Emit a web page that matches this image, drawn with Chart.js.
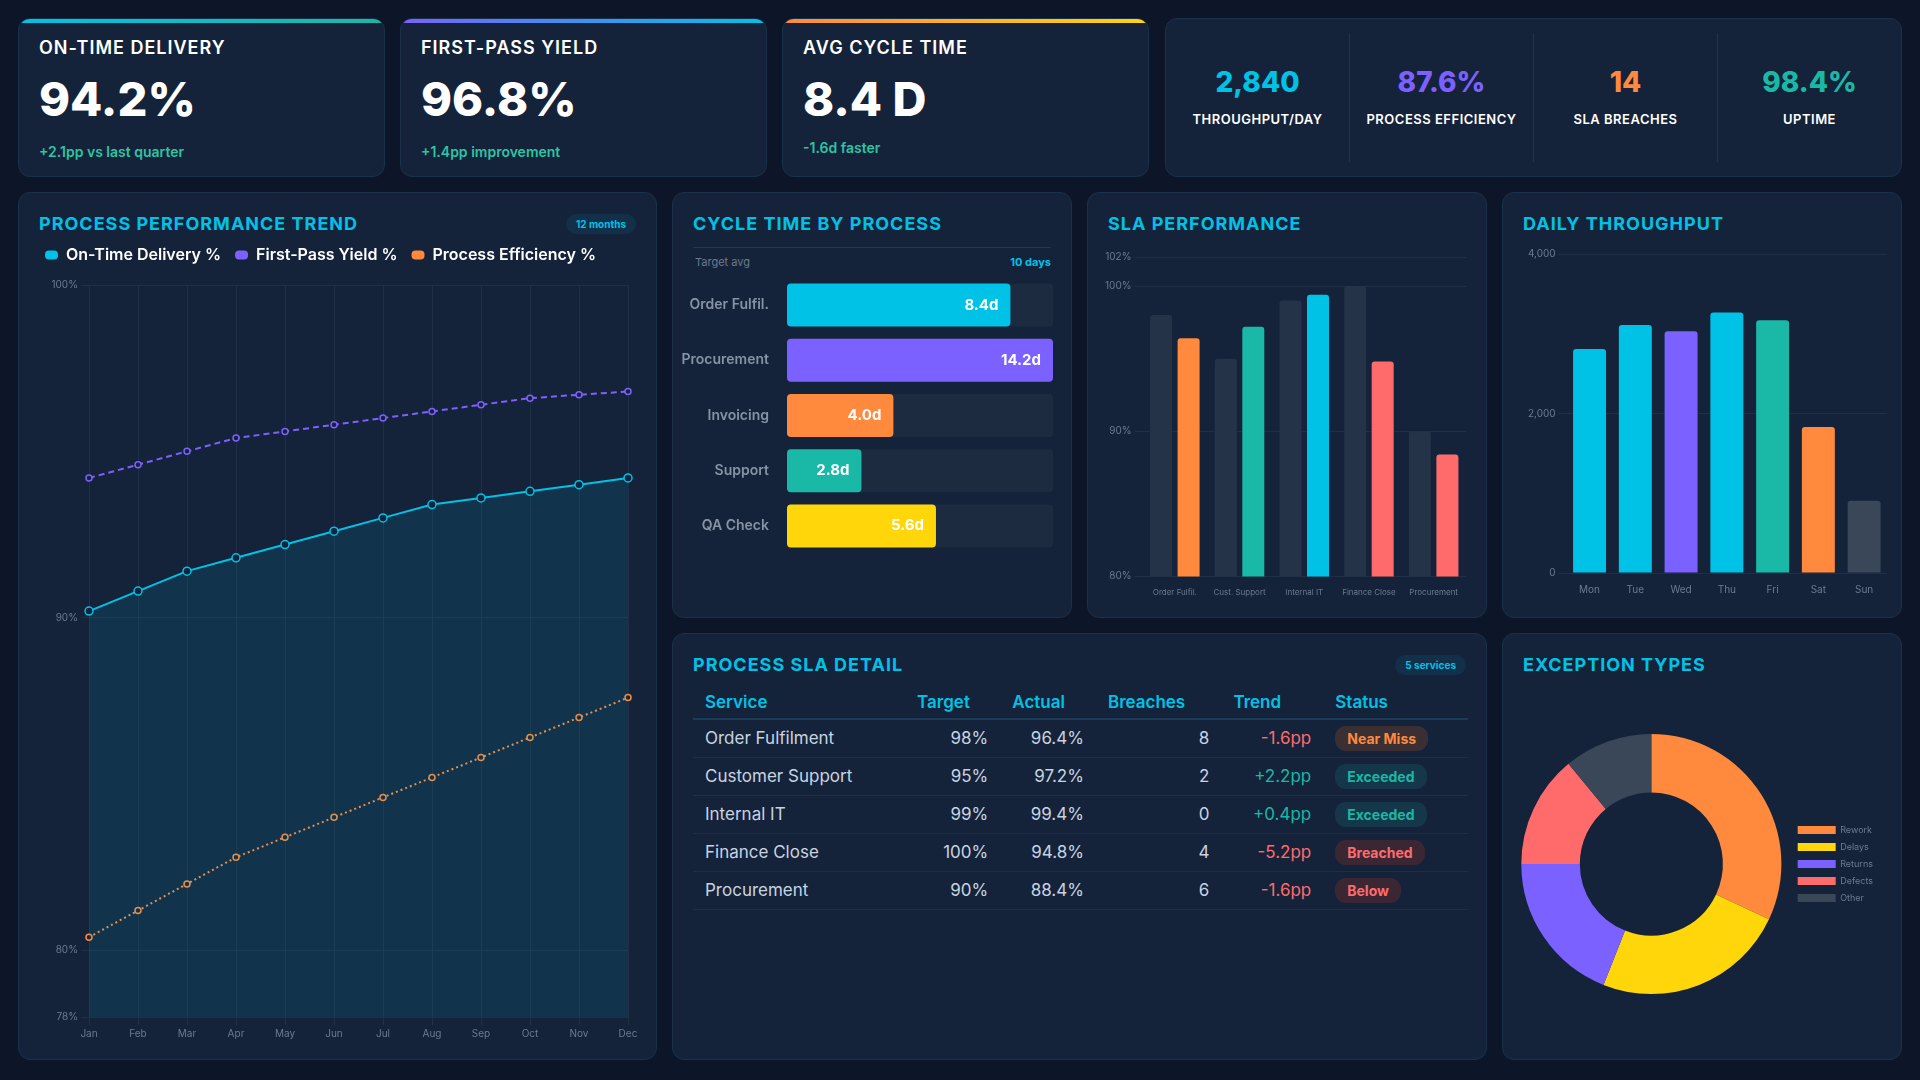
<!DOCTYPE html>
<html>
<head>
<meta charset="utf-8">
<script src="https://cdn.jsdelivr.net/npm/chart.js@4.4.1/dist/chart.umd.min.js"></script>
<style>
  * { box-sizing: border-box; margin: 0; padding: 0; }
  body { width: 1920px; height: 1080px; background: #0c1628; font-family: Inter, "Noto Sans", sans-serif; color: #fff; overflow: hidden; position: relative; }
  .card { position: absolute; background: #14233a; border: 1px solid #1b3049; border-radius: 12px; overflow: hidden; }
  .kpi { top: 18px; height: 159px; padding: 16px 20px; }
  .kpi .bar { position: absolute; left: 0; right: 0; top: 0; height: 4px; }
  .kpi .lbl { font-size: 18px; font-weight: 600; letter-spacing: 1px; margin-top: 2px; }
  .kpi .val { font-size: 47px; font-weight: 800; margin-top: 12px; }
  .kpi .sub { font-size: 14px; font-weight: 600; color: #2ec4a4; margin-top: 16px; }
  .mini { top: 18px; left: 1165px; width: 737px; height: 159px; display: flex; padding: 14px 0; }
  .mini div { flex: 1; text-align: center; border-right: 1px solid #22344c; padding-top: 32px; }
  .mini div:last-child { border-right: none; }
  .mini b { display: block; font-size: 28px; font-weight: 800; }
  .mini span { display: block; font-size: 13px; font-weight: 600; letter-spacing: 0.5px; margin-top: 12px; }
  .title { position: absolute; left: 20px; top: 20px; font-size: 18px; font-weight: 700; color: #00c2e6; letter-spacing: 1px; }
  .pill { position: absolute; top: 21px; right: 20px; background: #123049; color: #00c2e6; font-size: 10px; font-weight: 700; padding: 4px 10px; border-radius: 10px; }
  .cv { position: absolute; }
  table { position: absolute; left: 20px; top: 52px; width: 775px; border-collapse: collapse; font-size: 17px; }
  th { color: #00c2e6; font-weight: 600; text-align: left; padding: 6px 12px; border-bottom: 2px solid #1b3c58; }
  td { color: #c9d3e0; text-align: right; padding: 0 12px; height: 38px; border-bottom: 1px solid #1e2f45; }
  td:first-child, td:last-child { text-align: left; }
  .st { font-size: 14px; font-weight: 700; padding: 4px 12px; border-radius: 11px; }
</style>
</head>
<body>
<div class="card kpi" style="left:18px;width:367px"><div class="bar" style="background:linear-gradient(90deg,#00c2e6,#1ab8a6)"></div>
  <div class="lbl">ON-TIME DELIVERY</div><div class="val">94.2%</div><div class="sub">+2.1pp vs last quarter</div></div>
<div class="card kpi" style="left:400px;width:367px"><div class="bar" style="background:linear-gradient(90deg,#7b61ff,#00c2e6)"></div>
  <div class="lbl">FIRST-PASS YIELD</div><div class="val">96.8%</div><div class="sub">+1.4pp improvement</div></div>
<div class="card kpi" style="left:782px;width:367px"><div class="bar" style="background:linear-gradient(90deg,#ff8a3d,#ffd60a)"></div>
  <div class="lbl">AVG CYCLE TIME</div><div class="val">8.4 D</div><div class="sub" style="margin-top:12px">-1.6d faster</div></div>
<div class="card mini">
  <div><b style="color:#00c2e6">2,840</b><span>THROUGHPUT/DAY</span></div>
  <div><b style="color:#7b61ff">87.6%</b><span>PROCESS EFFICIENCY</span></div>
  <div><b style="color:#ff8a3d">14</b><span>SLA BREACHES</span></div>
  <div><b style="color:#1ab8a6">98.4%</b><span>UPTIME</span></div>
</div>

<div class="card" style="left:18px;top:192px;width:639px;height:868px">
  <div class="title">PROCESS PERFORMANCE TREND</div><div class="pill">12 months</div>
  <div class="cv" style="left:12px;top:40px;width:615px;height:810px"><canvas id="trend"></canvas></div>
</div>
<div class="card" style="left:672px;top:192px;width:400px;height:426px">
  <div class="title">CYCLE TIME BY PROCESS</div>
  <div style="position:absolute;left:20px;right:20px;top:54px;border-top:1px solid #1f3953"></div>
  <div style="position:absolute;left:22px;top:62px;font-size:11px;color:#6b7a8f">Target avg</div>
  <div style="position:absolute;right:20px;top:62px;font-size:11px;font-weight:700;color:#00c2e6">10 days</div>
  <div class="cv" style="left:8px;top:66px;width:372px;height:313px"><canvas id="cycle"></canvas></div>
</div>
<div class="card" style="left:1087px;top:192px;width:400px;height:426px">
  <div class="title">SLA PERFORMANCE</div>
  <div class="cv" style="left:14px;top:55px;width:372px;height:352px"><canvas id="sla"></canvas></div>
</div>
<div class="card" style="left:1502px;top:192px;width:400px;height:426px">
  <div class="title">DAILY THROUGHPUT</div>
  <div class="cv" style="left:14px;top:52px;width:370px;height:354px"><canvas id="daily"></canvas></div>
</div>
<div class="card" style="left:672px;top:633px;width:815px;height:427px">
  <div class="title">PROCESS SLA DETAIL</div><div class="pill">5 services</div>
  <table id="tbl"></table>
</div>
<div class="card" style="left:1502px;top:633px;width:400px;height:427px">
  <div class="title">EXCEPTION TYPES</div>
  <div class="cv" style="left:10px;top:62px;width:370px;height:336px"><canvas id="donut"></canvas></div>
</div>

<script>
const months = ['Jan','Feb','Mar','Apr','May','Jun','Jul','Aug','Sep','Oct','Nov','Dec'];
const onTime = [90.2, 90.8, 91.4, 91.8, 92.2, 92.6, 93.0, 93.4, 93.6, 93.8, 94.0, 94.2];
const firstPass = [94.2, 94.6, 95.0, 95.4, 95.6, 95.8, 96.0, 96.2, 96.4, 96.6, 96.7, 96.8];
const efficiency = [80.4, 81.2, 82.0, 82.8, 83.4, 84.0, 84.6, 85.2, 85.8, 86.4, 87.0, 87.6];
const trendTicks = [78, 80, 90, 100];

const processes = ['Order Fulfil.', 'Procurement', 'Invoicing', 'Support', 'QA Check'];
const cycleDays = [8.4, 14.2, 4.0, 2.8, 5.6];
const cycleTarget = 10;

const slaServices = ['Order Fulfil.', 'Cust. Support', 'Internal IT', 'Finance Close', 'Procurement'];
const slaTarget = [98, 95, 99, 100, 90];
const slaActual = [96.4, 97.2, 99.4, 94.8, 88.4];
const slaTicks = [80, 90, 100, 102];

const days = ['Mon','Tue','Wed','Thu','Fri','Sat','Sun'];
const throughput = [2810, 3110, 3030, 3265, 3170, 1830, 905];

const exceptionTypes = ['Rework', 'Delays', 'Returns', 'Defects', 'Other'];
const exceptionShare = [32, 24, 19, 14, 11];

const tableServices = ['Order Fulfilment', 'Customer Support', 'Internal IT', 'Finance Close', 'Procurement'];
const tableTarget = ['98%', '95%', '99%', '100%', '90%'];
const tableActual = ['96.4%', '97.2%', '99.4%', '94.8%', '88.4%'];
const tableBreaches = [8, 2, 0, 4, 6];
const tableTrend = ['-1.6pp', '+2.2pp', '+0.4pp', '-5.2pp', '-1.6pp'];
const tableStatus = ['Near Miss', 'Exceeded', 'Exceeded', 'Breached', 'Below'];

const C = { cyan: '#00c2e6', purple: '#7b61ff', orange: '#ff8a3d', teal: '#1ab8a6', yellow: '#ffd60a', red: '#ff6b6b', grey: '#3a4759', track: '#1d2b40', target: '#243348' };
const grid = '#1f2f45', tick = '#6b7a8f';
Chart.defaults.font.family = 'Inter, sans-serif';
Chart.defaults.color = tick;
Chart.defaults.animation = false;
Chart.defaults.maintainAspectRatio = false;

// table
const statusStyle = {
  'Near Miss': ['#ff8a3d', '#3a2f33'], 'Exceeded': ['#1ab8a6', '#15374a'],
  'Breached': ['#ff6b6b', '#3b2734'], 'Below': ['#ff6b6b', '#3b2734']
};
let html = '<tr><th>Service</th><th>Target</th><th>Actual</th><th>Breaches</th><th>Trend</th><th>Status</th></tr>';
tableServices.forEach((s, i) => {
  const up = tableTrend[i][0] === '+';
  const st = statusStyle[tableStatus[i]];
  html += `<tr><td>${s}</td><td>${tableTarget[i]}</td><td>${tableActual[i]}</td><td>${tableBreaches[i]}</td>` +
    `<td style="color:${up ? C.teal : C.red}">${tableTrend[i]}</td>` +
    `<td><span class="st" style="color:${st[0]};background:${st[1]}">${tableStatus[i]}</span></td></tr>`;
});
document.getElementById('tbl').innerHTML = html;

// a bit more room under the legend
const legendGap = {
  id: 'legendGap',
  beforeInit(chart) {
    const fit = chart.legend.fit;
    chart.legend.fit = function () { fit.bind(this)(); this.height += 12; };
  }
};

// trend
new Chart(document.getElementById('trend'), {
  type: 'line',
  data: {
    labels: months,
    datasets: [
      { label: 'On-Time Delivery %', data: onTime, borderColor: C.cyan, backgroundColor: 'rgba(0,194,230,0.10)', fill: 'start', borderWidth: 2, pointRadius: 4, pointBackgroundColor: '#14233a', pointBorderColor: C.cyan, pointBorderWidth: 1.5 },
      { label: 'First-Pass Yield %', data: firstPass, borderColor: C.purple, backgroundColor: C.purple, borderDash: [6, 4], borderWidth: 2, pointRadius: 3, pointBackgroundColor: '#14233a', pointBorderColor: C.purple, pointBorderWidth: 1.5 },
      { label: 'Process Efficiency %', data: efficiency, borderColor: C.orange, backgroundColor: C.orange, borderDash: [2, 3], borderWidth: 2, pointRadius: 3, pointBackgroundColor: '#14233a', pointBorderColor: C.orange, pointBorderWidth: 1.5 }
    ]
  },
  options: {
    layout: { padding: { right: 18 } },
    plugins: {
      legend: { position: 'top', align: 'start', labels: {
        color: '#fff', font: { size: 16, weight: '600' }, boxWidth: 13, boxHeight: 9, useBorderRadius: true, borderRadius: 4, padding: 14,
        generateLabels: ch => ch.data.datasets.map((d, i) => ({ text: d.label, fillStyle: d.borderColor, strokeStyle: d.borderColor, lineWidth: 0, fontColor: '#fff', borderRadius: 4, datasetIndex: i }))
      } }
    },
    scales: {
      x: { grid: { color: grid }, border: { display: false }, ticks: { font: { size: 10 } } },
      y: { min: 78, max: 100, grid: { color: grid }, border: { display: false },
           afterFit: s => { s.width = 58; },
           afterBuildTicks: a => { a.ticks = trendTicks.map(v => ({ value: v })); },
           ticks: { font: { size: 10 }, callback: v => v + '%' } }
    }
  },
  plugins: [legendGap]
});

// cycle time
const valueLabels = {
  id: 'valueLabels',
  afterDatasetsDraw(chart) {
    const ctx = chart.ctx;
    const meta = chart.getDatasetMeta(1);
    ctx.save();
    ctx.font = '700 15px Inter';
    ctx.fillStyle = '#fff';
    ctx.textAlign = 'right';
    ctx.textBaseline = 'middle';
    meta.data.forEach((bar, i) => ctx.fillText(cycleDays[i].toFixed(1) + 'd', bar.x - 12, bar.y));
    ctx.restore();
  }
};
new Chart(document.getElementById('cycle'), {
  type: 'bar',
  data: {
    labels: processes,
    datasets: [
      { data: processes.map(() => cycleTarget), backgroundColor: C.track, borderRadius: 4, borderSkipped: false, grouped: false, order: 2 },
      { data: cycleDays.map(v => Math.min(v, cycleTarget)), backgroundColor: [C.cyan, C.purple, C.orange, C.teal, C.yellow], borderRadius: 4, borderSkipped: false, grouped: false, order: 1 }
    ]
  },
  options: {
    indexAxis: 'y',
    layout: { padding: 0 },
    plugins: { legend: { display: false }, tooltip: { enabled: false } },
    datasets: { bar: { barPercentage: 0.78, categoryPercentage: 1 } },
    scales: {
      x: { display: false, min: 0, max: cycleTarget },
      y: { grid: { display: false }, border: { display: false },
           afterFit: s => { s.width = 106; },
           ticks: { color: '#8793a4', font: { size: 14, weight: '600' }, padding: 10 } }
    }
  },
  plugins: [valueLabels]
});

// SLA
new Chart(document.getElementById('sla'), {
  type: 'bar',
  data: {
    labels: slaServices,
    datasets: [
      { label: 'Target', data: slaTarget, backgroundColor: C.target, borderRadius: 3 },
      { label: 'Actual', data: slaActual, backgroundColor: [C.orange, C.teal, C.cyan, C.red, C.red], borderRadius: 3 }
    ]
  },
  options: {
    layout: { padding: { right: 8 } },
    plugins: { legend: { display: false } },
    datasets: { bar: { barPercentage: 0.8, categoryPercentage: 0.85 } },
    scales: {
      x: { grid: { display: false }, border: { display: false }, ticks: { font: { size: 8 } } },
      y: { min: 80, max: 102, grid: { color: grid }, border: { display: false },
           afterBuildTicks: a => { a.ticks = slaTicks.map(v => ({ value: v })); },
           ticks: { font: { size: 10 }, callback: v => v + '%' } }
    }
  }
});

// daily
new Chart(document.getElementById('daily'), {
  type: 'bar',
  data: { labels: days, datasets: [{ data: throughput, backgroundColor: [C.cyan, C.cyan, C.purple, C.cyan, C.teal, C.orange, C.grey], borderRadius: 3 }] },
  options: {
    layout: { padding: { left: 8 } },
    plugins: { legend: { display: false } },
    datasets: { bar: { barPercentage: 0.72, categoryPercentage: 1 } },
    scales: {
      x: { grid: { display: false }, border: { display: false }, ticks: { font: { size: 10 } } },
      y: { min: 0, max: 4000, grid: { color: grid }, border: { display: false },
           ticks: { stepSize: 2000, font: { size: 10 }, callback: v => v.toLocaleString('en-US') } }
    }
  }
});

// donut
new Chart(document.getElementById('donut'), {
  type: 'doughnut',
  data: { labels: exceptionTypes, datasets: [{ data: exceptionShare, backgroundColor: [C.orange, C.yellow, C.purple, C.red, C.grey], borderWidth: 0 }] },
  options: {
    cutout: '55%',
    radius: '94%',
    plugins: { legend: { position: 'right', labels: { color: tick, font: { size: 9 }, boxWidth: 38, boxHeight: 8, padding: 8 } } }
  }
});
</script>
</body>
</html>
